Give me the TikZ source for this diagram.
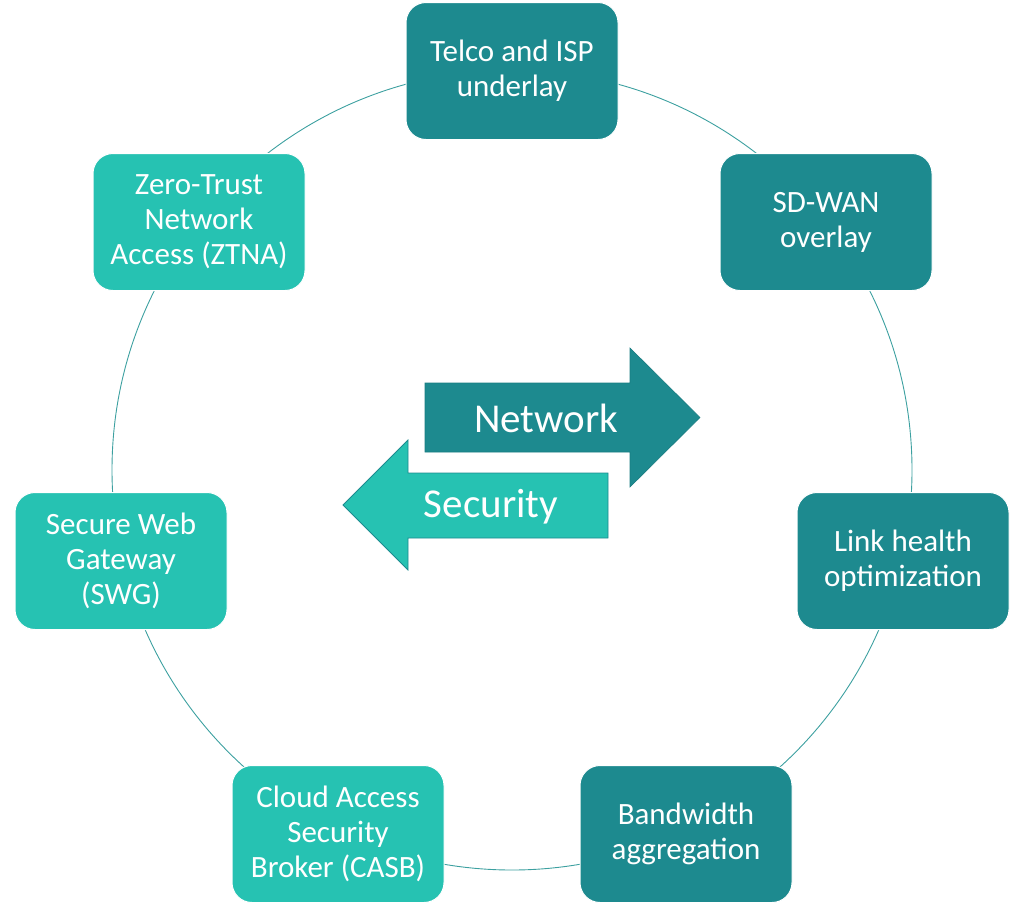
\documentclass[tikz,border=0pt]{standalone}
\usepackage{fontspec}
\setmainfont{Carlito}
\definecolor{darkteal}{RGB}{29,138,143}
\definecolor{lightteal}{RGB}{38,194,178}
\definecolor{ringcol}{RGB}{60,160,160}
\begin{document}
\begin{tikzpicture}[x=1pt,y=-1pt,
  box/.style={rounded corners=20pt, minimum width=212pt, minimum height=137pt, draw=white, line width=1pt,
    text=white, align=center, font=\fontsize{31}{35}\selectfont, inner sep=0pt},
  netbox/.style={box, fill=darkteal},
  secbox/.style={box, fill=lightteal},
  ring/.style={draw=ringcol, line width=0.9pt},
  arrowtext/.style={text=white, font=\fontsize{41}{44}\selectfont}]
\useasboundingbox (0,0) rectangle (1024,906);
\draw[ring] (512,470) circle (400);
\node[netbox] (telco) at (512,71) {Telco and ISP\\underlay};
\node[netbox] (sdwan) at (826,222) {SD-WAN\\overlay};
\node[netbox] (link) at (903,561) {Link health\\optimization};
\node[netbox] (bw) at (686,834) {Bandwidth\\aggregation};
\node[secbox] (casb) at (338,834) {Cloud Access\\Security\\Broker (CASB)};
\node[secbox] (swg) at (121,561) {Secure Web\\Gateway\\(SWG)};
\node[secbox] (ztna) at (199,222) {Zero-Trust\\Network\\Access (ZTNA)};
\draw[fill=darkteal, draw=darkteal!90!black, line width=0.6pt]
  (425,383) -- (630,383) -- (630,348) -- (700,417.5) -- (630,487) -- (630,452) -- (425,452) -- cycle;
\node[arrowtext] (net) at (546,418) {Network};
\draw[fill=lightteal, draw=darkteal, line width=0.8pt]
  (608,473) -- (408,473) -- (408,440) -- (343,505) -- (408,570) -- (408,538) -- (608,538) -- cycle;
\node[arrowtext] (sec) at (491,507) {Security};
\end{tikzpicture}
\end{document}
